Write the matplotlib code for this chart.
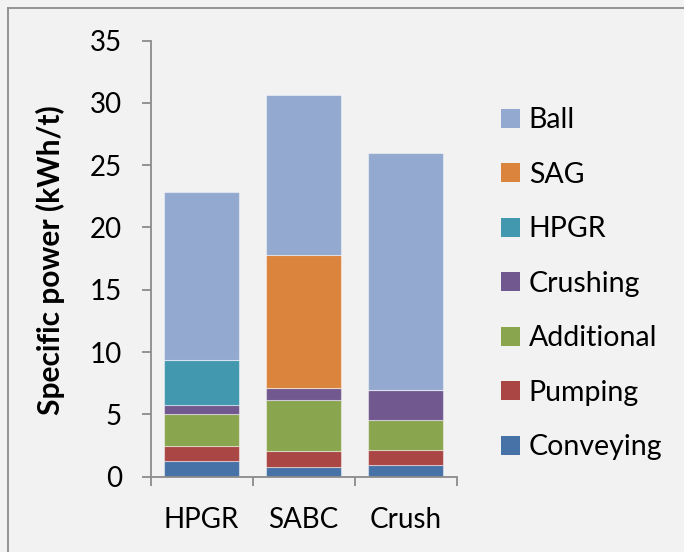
import matplotlib
matplotlib.use("Agg")
import matplotlib.pyplot as plt
from matplotlib.patches import Patch
from matplotlib.lines import Line2D
import numpy as np

plt.rcParams['font.family'] = ['Lato', 'DejaVu Sans']

categories = ["HPGR", "SABC", "Crush"]
series_names = ["Conveying", "Pumping", "Additional", "Crushing", "HPGR", "SAG", "Ball"]
conveying = [1.24, 0.79, 0.90]
pumping = [1.22, 1.24, 1.28]
additional = [2.60, 4.10, 2.40]
crushing = [0.70, 1.02, 2.37]
hpgr = [3.60, 0.0, 0.0]
sag = [0.0, 10.60, 0.0]
ball = [13.45, 12.85, 19.00]
yticks = [0, 5, 10, 15, 20, 25, 30, 35]

colors = {
    "Conveying": "#4672a7",
    "Pumping": "#aa4644",
    "Additional": "#89a54e",
    "Crushing": "#71588f",
    "HPGR": "#4198af",
    "SAG": "#db843d",
    "Ball": "#93a9cf",
}
data = [conveying, pumping, additional, crushing, hpgr, sag, ball]

W, H = 684, 552
fig = plt.figure(figsize=(W / 100, H / 100), dpi=100)
fig.patch.set_facecolor("#f2f2f2")

ax = fig.add_axes([150.5 / W, 1 - 476.7 / H, (456.8 - 150.5) / W, (476.7 - 40.5) / H])
ax.set_facecolor("#f2f2f2")

x = np.arange(len(categories))
bottom = np.zeros(len(categories))
for name, vals in zip(series_names, data):
    v = np.array(vals)
    ax.bar(x, v, 0.73, bottom=bottom, color=colors[name],
           edgecolor=(1, 1, 1, 0.45), linewidth=0.8, zorder=2)
    bottom += v

ax.set_xlim(-0.5, 2.5)
ax.set_ylim(0, 35)
ax.set_yticks(yticks)
ax.set_yticklabels([str(t) for t in yticks])
ax.set_xticks(x)
ax.set_xticklabels(categories)
ax.set_xticks([-0.5, 0.5, 1.5, 2.5], minor=True)

for s in ["top", "right"]:
    ax.spines[s].set_visible(False)
for s in ["left", "bottom"]:
    ax.spines[s].set_color("#8c8c8c")
    ax.spines[s].set_linewidth(1.3)

ax.tick_params(axis="y", direction="out", length=6.5, width=1.3, color="#8c8c8c",
               pad=14, labelsize=20, labelcolor="black")
ax.tick_params(axis="x", which="major", length=0, pad=22, labelsize=20)
ax.tick_params(axis="x", which="minor", direction="out", length=6.5, width=1.3,
               color="#8c8c8c")

ax.set_ylabel("Specific power (kWh/t)", fontsize=21.5, fontweight="bold")
ax.yaxis.set_label_coords(-0.28, 0.497)

handles = [Patch(facecolor=colors[n], edgecolor="none") for n in series_names[::-1]]
leg = fig.legend(handles, series_names[::-1], loc="upper left",
                 bbox_to_anchor=(490 / W, 1 - 96 / H), frameon=False,
                 fontsize=20.5, handlelength=0.64, handleheight=0.64,
                 handletextpad=0.32, labelspacing=1.0, borderaxespad=0)

# outer border
fig.add_artist(Line2D([8 / W, 8 / W], [0, 1 - 8 / H], transform=fig.transFigure,
                      color="#8c8c8c", lw=1.3))
fig.add_artist(Line2D([8 / W, 1], [1 - 8 / H, 1 - 8 / H], transform=fig.transFigure,
                      color="#8c8c8c", lw=1.3))

fig.savefig("out.png", dpi=100, facecolor=fig.get_facecolor())
